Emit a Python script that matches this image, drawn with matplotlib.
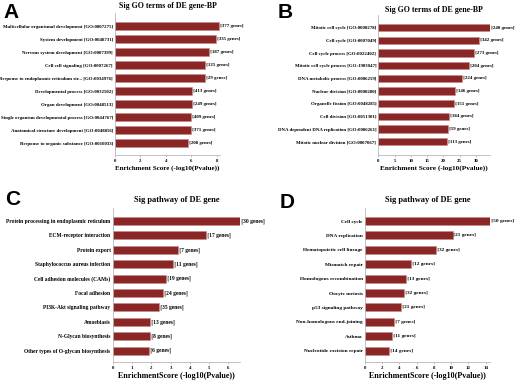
import matplotlib
matplotlib.use("Agg")
import matplotlib.pyplot as plt

W, H = 520, 386

# ---------------- data ----------------
a_terms = ["Multicellular organismal development [GO:0007275]",
           "System development [GO:0048731]",
           "Nervous system development [GO:0007399]",
           "Cell cell signaling [GO:0007267]",
           "Response to endoplasmic reticulum str... [GO:0034976]",
           "Developmental process [GO:0032502]",
           "Organ development [GO:0048513]",
           "Single organism developmental process [GO:0044767]",
           "Anatomical structure development [GO:0048856]",
           "Response to organic substance [GO:0010033]"]
a_scores = [8.18, 7.94, 7.37, 7.10, 7.05, 6.08, 6.08, 6.00, 6.00, 5.77]
a_genes = [377, 335, 187, 125, 29, 413, 249, 409, 371, 208]

b_terms = ["Mitotic cell cycle [GO:0000278]",
           "Cell cycle [GO:0007049]",
           "Cell cycle process [GO:0022402]",
           "Mitotic cell cycle process [GO:1903047]",
           "DNA metabolic process [GO:0006259]",
           "Nuclear division [GO:0000280]",
           "Organelle fission [GO:0048285]",
           "Cell division [GO:0051301]",
           "DNA dependent DNA replication [GO:0006261]",
           "Mitotic nuclear division [GO:0007067]"]
b_scores = [34.3, 30.9, 29.4, 27.9, 25.6, 23.5, 23.3, 21.8, 21.3, 21.0]
b_genes = [240, 342, 273, 204, 224, 146, 151, 184, 59, 113]

c_terms = ["Protein processing in endoplasmic reticulum",
           "ECM-receptor interaction",
           "Protein export",
           "Staphylococcus aureus infection",
           "Cell adhesion molecules (CAMs)",
           "Focal adhesion",
           "PI3K-Akt signaling pathway",
           "Amoebiasis",
           "N-Glycan biosynthesis",
           "Other types of O-glycan biosynthesis"]
c_scores = [6.59, 4.86, 3.36, 3.14, 2.74, 2.62, 2.41, 1.93, 1.91, 1.88]
c_genes = [30, 17, 7, 11, 19, 24, 35, 13, 8, 6]

d_terms = ["Cell cycle",
           "DNA replication",
           "Hematopoietic cell lineage",
           "Mismatch repair",
           "Homologous recombination",
           "Oocyte meiosis",
           "p53 signaling pathway",
           "Non-homologous end-joining",
           "Asthma",
           "Nucleotide excision repair"]
d_scores = [14.55, 10.15, 8.18, 5.29, 4.75, 4.51, 4.17, 3.36, 3.09, 2.82]
d_genes = [50, 21, 32, 12, 13, 32, 21, 7, 11, 14]

a_ticks = [0, 2, 4, 6, 8]
b_ticks = [0, 5, 10, 15, 20, 25, 30]
c_ticks = [0, 1, 2, 3, 4, 5, 6]
d_ticks = [0, 2, 4, 6, 8, 10, 12, 14]

# ---------------- style ----------------
SERIF = ["Liberation Serif", "DejaVu Serif"]
BAR = "#8a2626"

fig = plt.figure(figsize=(W / 100, H / 100), dpi=100)


def px_axes(left, right, top, bottom):
    return fig.add_axes([left / W, 1 - bottom / H, (right - left) / W, (bottom - top) / H])


def panel(box, terms, scores, genes, ticks, xmax, ylim, title, xlabel,
          lab_fs, title_fs, xl_fs, title_y):
    ax = px_axes(*box)
    y = list(range(len(terms)))
    ax.barh(y, scores, height=0.56, color=BAR, edgecolor="#c98a8a", linewidth=0.4)
    ax.set_xlim(0, xmax)
    ax.set_ylim(*ylim)
    ax.set_yticks(y)
    ax.set_yticklabels(terms, fontsize=lab_fs, family=SERIF, fontweight="bold")
    ax.set_xticks(ticks)
    ax.set_xticklabels([str(t) for t in ticks], fontsize=3.5, family=SERIF, fontweight="bold")
    ax.tick_params(axis="y", length=0, pad=1.5)
    ax.tick_params(axis="x", length=1.5, width=0.4, pad=1.5, color="#999999")
    for s in ("top", "right"):
        ax.spines[s].set_visible(False)
    for s in ("left", "bottom"):
        ax.spines[s].set_linewidth(0.5)
        ax.spines[s].set_color("#aaaaaa")
    for yi, v, g in zip(y, scores, genes):
        ax.text(v, yi, f" [{g} genes]", va="center", ha="left",
                fontsize=lab_fs, family=SERIF, fontweight="bold", clip_on=False)
    ax.set_xlabel(xlabel, fontsize=xl_fs, family=SERIF, fontweight="bold", labelpad=1.5)
    cx = (box[0] + box[1]) / 2
    fig.text(cx / W, 1 - title_y / H, title, ha="center", va="center",
             fontsize=title_fs, family=SERIF, fontweight="bold")
    return ax


panel((115, 220, 13, 155), a_terms, a_scores, a_genes, a_ticks, 8.27,
      (9.92, -1.0), "Sig GO terms of DE gene-BP", "Enrichment Score (-log10(Pvalue))",
      3.5, 5.7, 5.0, 6)
panel((378.3, 490, 15, 155), b_terms, b_scores, b_genes, b_ticks, 34.3,
      (9 + (155 - 141.7) / 12.67, -(27.7 - 15) / 12.67),
      "Sig GO terms of DE gene-BP", "Enrichment Score (-log10(Pvalue))",
      3.5, 5.7, 5.2, 10)
panel((112.7, 240, 208, 361.7), c_terms, c_scores, c_genes, c_ticks, 6.6,
      (9 + (361.7 - 350.7) / 14.4, -(221 - 208) / 14.4),
      "Sig pathway of DE gene", "EnrichmentScore (-log10(Pvalue))",
      4.0, 6.0, 5.8, 200)
panel((365, 490, 208, 361.7), d_terms, d_scores, d_genes, d_ticks, 14.5,
      (9 + (361.7 - 350.7) / 14.4, -(221 - 208) / 14.4),
      "Sig pathway of DE gene", "EnrichmentScore (-log10(Pvalue))",
      3.8, 6.0, 5.8, 200)

for lbl, x, y in [("A", 3, 12), ("B", 278, 13), ("C", 5, 200), ("D", 280, 202)]:
    fig.text(x / W, 1 - y / H, lbl, ha="left", va="center", fontsize=15,
             family=["Liberation Sans", "DejaVu Sans"], fontweight="bold")

fig.savefig("out.png", dpi=100, facecolor="white")
